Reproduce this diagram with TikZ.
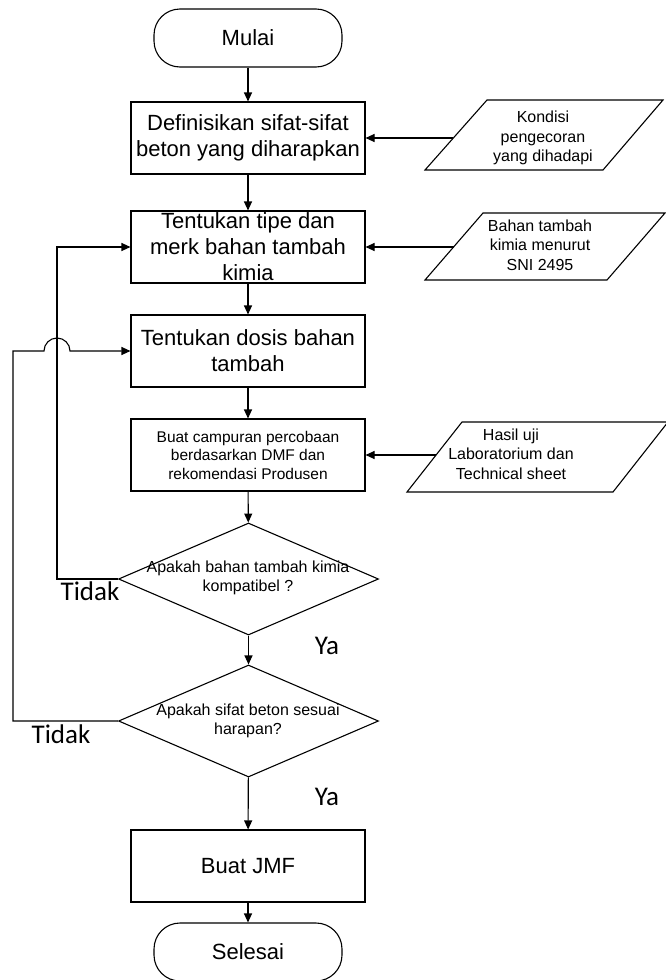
\documentclass[tikz,border=0pt]{standalone}
\usepackage{fontspec}
\setmainfont{Liberation Sans}
\newfontfamily\carlito{Carlito}
\usetikzlibrary{arrows.meta,shapes.geometric}
\begin{document}
\begin{tikzpicture}[x=1pt,y=-1pt,line width=1.1pt,
  arr/.style={-{Triangle[width=8pt,length=9pt]}},
  box/.style={draw,rectangle,minimum width=234pt,minimum height=72pt,inner sep=0pt,align=center,font=\fontsize{22}{26}\selectfont},
  smallbox/.style={box,font=\fontsize{15.5}{18.5}\selectfont},
  term/.style={draw,rectangle,rounded corners=26pt,minimum width=188pt,minimum height=58pt,inner sep=0pt,font=\fontsize{22}{26}\selectfont},
  dia/.style={draw,diamond,minimum width=260pt,minimum height=112pt,inner sep=0pt},
  dtext/.style={align=center,inner sep=0pt,font=\fontsize{16}{19}\selectfont},
  ptext/.style={align=center,inner sep=0pt,font=\fontsize{16}{19.5}\selectfont},
  lab/.style={inner sep=0pt,font=\carlito\fontsize{27}{30}\selectfont}
]
\useasboundingbox (0,0) rectangle (665,980);

% main column
\node[term] (mulai) at (248,38) {Mulai};
\node[box] (def) at (248,138) {Definisikan sifat-sifat\\beton yang diharapkan};
\node[box] (tipe) at (248,247) {Tentukan tipe dan\\merk bahan tambah\\kimia};
\node[box] (dosis) at (248,351) {Tentukan dosis bahan\\tambah};
\node[smallbox] (camp) at (248,455) {Buat campuran percobaan\\berdasarkan DMF dan\\rekomendasi Produsen};
\node[dia] (d1) at (248.5,579) {};
\node[dtext] (d1t) at (248,578) {Apakah bahan tambah kimia\\kompatibel ?};
\node[dia] (d2) at (248.5,721) {};
\node[dtext] (d2t) at (248,721) {Apakah sifat beton sesuai\\harapan?};
\node[box] (jmf) at (248,866) {Buat JMF};
\node[term] (selesai) at (248,952) {Selesai};

% inputs (parallelograms)
\draw (425,170) -- (487,100) -- (663,100) -- (603,170) -- cycle;
\node[ptext] (kond) at (543,138) {Kondisi\\pengecoran\\yang dihadapi};
\coordinate (kondL) at (453,138);
\draw (425,280) -- (483,213) -- (665,213) -- (607,280) -- cycle;
\node[ptext] (bahan) at (540,245) {Bahan tambah\\kimia menurut\\SNI 2495};
\coordinate (bahanL) at (454,247);
\draw (407,492) -- (462,422) -- (668,422) -- (613,492) -- cycle;
\node[ptext] (hasil) at (511,454) {Hasil uji\\Laboratorium dan\\Technical sheet};
\coordinate (hasilL) at (436,455);

% main flow arrows
\draw[arr] (mulai) -- (def);
\draw[arr] (def) -- (tipe);
\draw[arr] (tipe) -- (dosis);
\draw[arr] (dosis) -- (camp);
\draw[arr] (camp) -- (d1);
\draw[arr] (d1) -- (d2);
\draw[arr] (d2) -- (jmf);
\draw[arr] (jmf) -- (selesai);

% input arrows
\draw[arr] (kondL) -- (def);
\draw[arr] (bahanL) -- (tipe);
\draw[arr] (hasilL) -- (camp);

% feedback loops
\coordinate (c1) at (57,579);
\draw[arr] (d1.west) -- (c1) |- (tipe.west);
\coordinate (c2) at (13,721);
\coordinate (hopL) at (44,351);
\draw[arr] (d2.west) -- (c2) -- (c2 |- dosis.west) -- (hopL)
  arc[start angle=180,end angle=0,radius=13pt] -- (dosis.west);

% labels
\node[lab] (t1) at (90,591) {Tidak};
\node[lab] (t2) at (61,734) {Tidak};
\node[lab] (y1) at (327,646) {Ya};
\node[lab] (y2) at (327,797) {Ya};
\end{tikzpicture}
\end{document}
